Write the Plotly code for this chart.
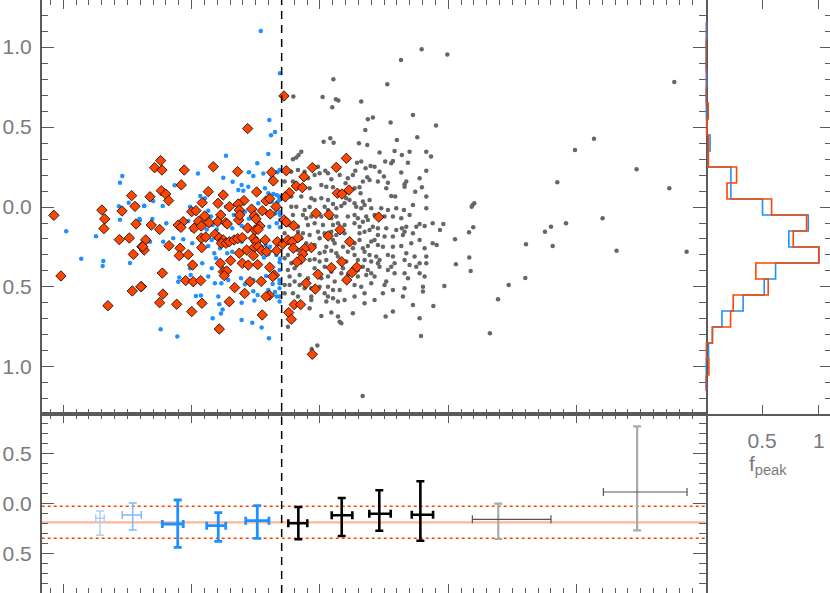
import plotly.graph_objects as go

# ---------------- data ----------------
grey_pts = [
 (2.096,0.623),(2.322,0.659),(2.725,0.575),(2.374,0.548),(2.413,0.559),(2.551,0.529),(2.354,0.481),
 (2.081,0.429),(2.029,0.408),(2.107,0.402),(2.304,0.398),(2.369,0.388),(2.600,0.419),(2.759,0.436),
 (1.855,0.346),(1.834,0.325),(1.790,0.298),(1.816,0.309),(2.465,0.340),(2.582,0.350),(2.639,0.325),
 (2.699,0.346),(2.829,0.346),(2.289,0.277),(2.322,0.284),(2.395,0.256),(2.356,0.242),(2.426,0.252),
 (2.509,0.284),(2.556,0.273),(2.569,0.288),(2.686,0.277),(1.985,0.252),(2.042,0.227),(2.063,0.211),
 (2.276,0.227),(2.218,0.179),(2.257,0.200),(2.369,0.186),(2.465,0.221),(2.499,0.190),(2.634,0.215),
 (2.829,0.227),(2.777,0.179),(2.673,0.159),(2.660,0.142),(2.452,0.159),(2.530,0.152),(2.387,0.169),
 (2.335,0.159),(2.089,0.173),(2.154,0.200),(2.200,0.148),(1.959,0.200),(1.998,0.211),(1.881,0.221),
 (1.907,0.179),(1.777,0.221),(1.829,0.231),(1.790,0.159),(1.725,0.159),(1.920,0.117),(2.011,0.138),
 (2.050,0.127),(2.102,0.123),(2.270,0.117),(2.309,0.123),(2.317,0.086),(2.517,0.117),(2.556,0.069),
 (2.587,0.065),(2.660,0.127),(2.743,0.096),(2.795,0.123),(2.829,0.065),(1.777,0.065),(1.855,0.065),
 (1.933,0.054),(1.959,0.044),(2.011,0.054),(2.063,0.044),(2.205,0.054),(2.231,0.044),(2.192,0.023),
 (2.270,0.023),(2.335,0.034),(2.387,0.044),(2.400,-0.008),(2.478,-0.008),(2.530,-0.019),(2.595,-0.008),
 (2.655,-0.019),(2.725,0.013),(2.829,-0.008),(1.777,0.002),(1.816,0.002),(1.881,-0.019),(1.920,0.000),
 (2.037,0.002),(2.063,-0.019),(2.102,0.019),(2.128,-0.008),(2.167,0.006),(2.283,0.002),(2.322,-0.008),
 (2.348,0.013),(1.790,-0.050),(1.868,-0.050),(1.894,-0.071),(1.933,-0.060),(2.011,-0.060),(2.089,-0.071),
 (2.128,-0.060),(2.218,-0.060),(2.270,-0.050),(2.296,-0.071),(2.361,-0.060),(2.374,-0.081),(2.426,-0.050),
 (2.504,-0.060),(2.569,-0.060),(2.634,-0.071),(2.699,-0.050),(2.777,-0.106),(2.751,-0.123),(2.816,-0.119),
 (1.751,-0.112),(1.829,-0.123),(1.907,-0.112),(1.959,-0.102),(2.024,-0.112),(2.102,-0.112),(2.141,-0.102),
 (2.192,-0.112),(2.270,-0.102),(2.309,-0.123),(2.335,-0.092),(2.413,-0.123),(2.452,-0.133),(2.517,-0.133),
 (2.595,-0.144),(2.660,-0.154),(2.639,-0.133),(2.673,-0.123),(2.725,-0.164),(1.725,-0.164),(1.829,-0.154),
 (1.868,-0.164),(1.920,-0.175),(1.985,-0.154),(2.037,-0.164),(2.089,-0.154),(2.128,-0.175),(2.192,-0.164),
 (2.309,-0.164),(2.348,-0.154),(2.387,-0.144),(2.452,-0.175),(2.504,-0.185),(2.569,-0.185),(2.647,-0.175),
 (2.712,-0.227),(2.569,-0.248),(1.855,-0.196),(1.998,-0.196),(2.102,-0.206),(2.115,-0.227),(2.270,-0.227),
 (2.309,-0.206),(2.400,-0.216),(2.426,-0.206),(2.452,-0.237),(2.491,-0.248),(2.634,-0.244),(2.777,-0.206),
 (2.816,-0.258),(1.894,-0.227),(1.959,-0.237),(2.050,-0.248),(2.180,-0.248),(2.257,-0.258),(2.335,-0.258),
 (2.374,-0.244),(1.777,-0.258),(1.751,-0.300),(1.829,-0.269),(1.998,-0.289),(2.037,-0.279),(2.089,-0.273),
 (2.128,-0.289),(2.218,-0.279),(2.270,-0.300),(2.348,-0.279),(2.387,-0.300),(2.439,-0.310),(2.530,-0.300),
 (2.569,-0.310),(2.673,-0.289),(2.738,-0.310),(2.777,-0.352),(2.829,-0.310),(1.725,-0.321),(1.777,-0.352),
 (1.920,-0.331),(1.959,-0.327),(1.998,-0.341),(2.050,-0.331),(2.141,-0.310),(2.205,-0.341),(2.296,-0.331),
 (2.348,-0.331),(2.400,-0.341),(2.452,-0.352),(2.465,-0.331),(2.582,-0.352),(2.660,-0.331),(2.699,-0.362),
 (2.751,-0.373),(2.829,-0.352),(1.751,-0.394),(1.803,-0.383),(1.959,-0.383),(2.037,-0.373),(2.089,-0.404),
 (2.180,-0.383),(2.296,-0.394),(2.335,-0.373),(2.374,-0.394),(2.400,-0.414),(2.465,-0.373),(2.530,-0.394),
 (2.582,-0.414),(2.556,-0.373),(2.660,-0.414),(2.777,-0.414),(2.816,-0.435),(1.764,-0.435),(1.842,-0.425),
 (1.907,-0.446),(2.011,-0.446),(2.063,-0.435),(2.115,-0.466),(2.167,-0.414),(2.218,-0.425),(2.296,-0.435),
 (2.361,-0.425),(2.426,-0.435),(2.517,-0.466),(2.686,-0.446),(2.803,-0.498),(1.725,-0.487),(1.764,-0.487),
 (1.803,-0.466),(1.842,-0.487),(1.881,-0.508),(1.933,-0.508),(1.998,-0.498),(2.063,-0.498),(2.102,-0.519),
 (2.154,-0.519),(2.270,-0.487),(2.322,-0.498),(2.400,-0.477),(2.504,-0.487),(2.569,-0.519),(2.660,-0.508),
 (2.803,-0.529),(1.725,-0.539),(1.790,-0.539),(1.829,-0.560),(1.933,-0.560),(2.037,-0.539),(2.063,-0.560),
 (2.102,-0.571),(2.192,-0.581),(2.270,-0.560),(2.348,-0.539),(2.491,-0.539),(2.647,-0.560),(1.933,-0.581),
 (2.050,-0.591),(2.141,-0.591),(2.348,-0.602),(2.426,-0.581),(2.725,-0.612),(1.920,-0.633),(2.011,-0.681),
 (2.089,-0.660),(2.141,-0.685),(2.167,-0.727),(2.257,-0.664),(2.569,-0.654),(2.512,-0.685),(2.777,-0.696),
 (1.751,-0.748),(2.154,-0.717),
 (2.793,0.986),(2.993,0.954),(2.632,0.919),(2.105,0.798),(2.525,0.767),(1.793,0.690),(2.021,0.688),
 (2.125,0.673),(2.144,0.665),(2.905,0.509),(2.866,0.315),
 (3.850,0.154),(3.988,0.356),(4.136,0.427),(4.468,0.236),(4.723,0.117),(4.762,0.781),
 (2.879,-0.102),(2.936,-0.144),(2.962,-0.106),(2.879,-0.227),(2.910,-0.237),(3.053,-0.202),(3.060,-0.358),
 (3.162,-0.158),(3.195,-0.127),(3.164,-0.316),(3.175,-0.400),(3.183,0.002),(3.203,0.023),(3.190,0.013),
 (3.471,-0.487),(3.388,-0.577),(3.601,-0.444),(3.606,-0.233),(3.754,-0.154),(3.801,-0.123),(3.814,-0.244),
 (3.918,-0.102),(4.203,-0.071),(4.312,-0.273),(4.858,-0.279),(3.325,-0.789),(2.970,-0.494),(2.884,-0.619),
 (2.788,-0.806),(2.333,-1.181),(1.980,-0.866),(1.936,-0.887),
]

blue_pts = [
 (1.268,0.321),(1.598,0.331),(1.512,0.273),(1.050,0.210),(0.868,0.136),(1.247,0.183),(1.320,0.158),
 (1.447,0.217),(1.481,0.194),(1.559,0.210),(1.619,0.173),(1.668,0.217),(1.390,0.138),(1.364,0.106),
 (1.403,0.102),(1.442,0.127),(1.572,0.117),(1.598,0.086),(1.637,0.081),(1.663,0.075),(1.684,0.060),
 (1.068,0.069),(1.104,0.054),(0.629,0.006),(0.701,0.038),(0.775,0.006),(0.988,0.002),(1.130,-0.023),
 (1.151,-0.060),(1.268,0.002),(1.330,-0.050),(1.416,-0.029),(1.447,-0.073),(1.520,0.023),(1.624,0.033),
 (1.673,0.033),(1.650,-0.040),(1.689,-0.050),(1.690,-0.081),(0.598,-0.081),(0.694,-0.075),(0.803,-0.102),
 (0.974,-0.088),(1.005,-0.144),(1.118,-0.140),(1.164,-0.113),(1.196,-0.140),(1.317,-0.133),(1.390,-0.117),
 (1.606,-0.123),(1.663,-0.102),(1.690,-0.127),(0.857,-0.196),(0.935,-0.202),(1.005,-0.227),(0.779,-0.217),
 (0.676,-0.217),(1.157,-0.206),(1.130,-0.244),(1.390,-0.217),(1.577,-0.238),(1.611,-0.248),(1.221,-0.258),
 (1.177,-0.289),(1.190,-0.321),(1.317,-0.279),(1.278,-0.289),(1.494,-0.310),(1.564,-0.315),(1.598,-0.296),
 (1.660,-0.300),(1.689,-0.323),(0.988,-0.383),(1.083,-0.352),(1.157,-0.383),(0.904,-0.440),(0.896,-0.467),
 (1.130,-0.435),(1.182,-0.477),(1.232,-0.477),(1.286,-0.456),(1.385,-0.446),(1.416,-0.483),(1.481,-0.456),
 (1.580,-0.431),(1.632,-0.481),(1.684,-0.456),(0.993,-0.425),(1.034,-0.556),(1.073,-0.554),(1.208,-0.560),
 (1.216,-0.608),(1.390,-0.598),(1.481,-0.527),(1.489,-0.585),(1.515,-0.550),(1.598,-0.519),(1.242,-0.640),
 (1.229,-0.665),(1.390,-0.706),(1.473,-0.723),(1.650,-0.531),(1.663,-0.560),(0.759,-0.764),(1.164,-0.696),
 (0.460,0.194),(0.442,0.152),(0.434,0.004),(0.510,0.027),(0.632,0.008),(0.442,-0.079),(0.593,-0.075),
 (0.023,-0.152),(0.255,-0.183),(0.140,-0.323),(0.312,-0.338),(0.307,-0.369),(0.520,-0.350),
 (0.889,-0.810),(1.603,-0.820),(1.546,-0.754),(1.539,1.100),(1.689,0.836),(1.606,0.544),(1.619,0.448),
 (1.650,0.469),
 (1.686,0.232),(1.686,0.065),(1.686,0.044),(1.686,-0.029),(1.686,-0.039),(1.686,-0.216),(1.686,-0.346),
 (1.686,-0.394),(1.686,-0.477),(1.686,-0.508),(1.686,-0.560),(1.686,-0.591),
]

orange_pts = [
 (0.759,0.290),(0.712,0.246),(0.769,0.231),(0.943,0.231),(1.169,0.252),(1.359,0.221),(0.920,0.138),
 (1.624,0.217),(1.637,0.163),(0.764,0.102),(0.798,0.081),(0.676,0.064),(0.821,0.040),(1.130,0.096),
 (1.247,0.075),(1.507,0.094),(1.083,0.027),(1.206,0.023),(1.295,0.002),(1.408,0.040),(1.580,0.038),
 (1.609,0.052),(1.658,0.002),(1.364,0.019),(1.372,-0.019),(1.468,-0.013),(1.551,-0.023),(1.613,-0.044),
 (1.001,-0.029),(1.034,-0.023),(1.102,-0.056),(1.227,-0.050),(0.935,-0.092),(0.896,-0.113),(0.917,-0.127),
 (1.055,-0.089),(1.136,-0.098),(1.203,-0.092),(1.266,-0.098),(1.278,-0.106),(1.367,-0.081),(1.375,-0.050),
 (1.489,-0.056),(1.502,-0.075),(0.686,-0.113),(0.751,-0.140),(1.019,-0.133),(1.076,-0.119),(1.437,-0.131),
 (1.494,-0.144),(1.533,-0.119),(1.518,-0.140),(0.642,-0.206),(0.613,-0.248),(0.631,-0.269),(0.824,-0.242),
 (0.910,-0.258),(0.904,-0.304),(0.974,-0.298),(1.076,-0.194),(1.110,-0.188),(1.079,-0.254),(1.183,-0.171),
 (1.216,-0.194),(1.247,-0.206),(1.232,-0.227),(1.268,-0.227),(1.294,-0.217),(1.331,-0.206),(1.359,-0.198),
 (1.395,-0.192),(1.481,-0.196),(1.502,-0.217),(1.574,-0.206),(1.668,-0.217),(1.710,-0.231),(1.429,-0.269),
 (1.489,-0.252),(1.520,-0.248),(1.372,-0.289),(1.481,-0.304),(1.546,-0.273),(1.585,-0.279),(1.663,-0.273),
 (1.224,-0.352),(1.304,-0.335),(1.008,-0.363),(1.395,-0.352),(1.442,-0.363),(1.515,-0.360),(1.609,-0.377),
 (1.645,-0.425),(1.632,-0.435),(1.247,-0.404),(1.273,-0.400),(1.255,-0.429),(0.772,-0.413),(0.608,-0.498),
 (0.954,-0.460),(1.013,-0.467),(1.071,-0.460),(1.336,-0.504),(1.414,-0.540),(1.455,-0.467),(1.543,-0.465),
 (1.606,-0.552),(1.580,-0.560),(0.777,-0.544),(0.751,-0.598),(0.884,-0.608),(1.081,-0.602),(1.294,-0.592),
 (1.001,-0.654),(1.551,-0.675),(1.216,-0.763),
 (-0.073,-0.052),(-0.018,-0.431),(0.301,-0.019),(0.323,-0.075),(0.317,-0.135),(0.437,-0.204),(0.533,0.071),
 (0.458,-0.025),(0.559,0.004),(0.567,-0.106),(0.515,-0.194),(0.546,-0.296),(0.619,-0.248),(0.538,-0.525),
 (0.606,-0.498),(0.348,-0.617),
 (1.437,0.490),(1.720,0.694),
 (1.738,0.227),(1.941,0.246),(2.128,0.248),(2.206,0.304),(1.876,0.189),(1.816,0.131),(1.863,0.121),
 (1.762,0.089),(1.730,0.063),(2.136,0.086),(2.172,0.081),(2.227,0.106),(1.970,-0.040),(2.071,-0.048),
 (2.458,-0.063),(1.720,-0.081),(1.738,-0.094),(1.796,-0.117),(2.157,-0.142),(2.065,-0.181),(1.751,-0.206),
 (1.785,-0.217),(1.829,-0.192),(1.793,-0.258),(1.933,-0.254),(1.881,-0.260),(2.232,-0.217),(1.866,-0.294),
 (1.853,-0.327),(1.821,-0.344),(2.170,-0.342),(2.287,-0.377),(2.089,-0.379),(2.250,-0.410),(1.985,-0.421),
 (2.209,-0.456),(1.892,-0.477),(1.964,-0.513),(1.800,-0.610),(1.850,-0.610),(1.757,-0.660),(1.777,-0.702),
 (1.941,-0.921),
]

# histogram of the y values (normalised peak fraction)
hist_centers = [1.1, 1.0, 0.9, 0.8, 0.7, 0.6, 0.5, 0.4, 0.3, 0.2, 0.1, 0.0,
                -0.1, -0.2, -0.3, -0.4, -0.5, -0.6, -0.7, -0.8, -0.9, -1.0, -1.1]
hist_blue = [0.01, 0.0, 0.0, 0.01, 0.0, 0.005, 0.01, 0.04, 0.025, 0.224, 0.224, 0.503,
             0.906, 0.735, 1.0, 0.618, 0.518, 0.332, 0.145, 0.062, 0.027, 0.0, 0.0]
hist_orange = [0.0, 0.0, 0.0, 0.0, 0.0, 0.024, 0.01, 0.025, 0.025, 0.274, 0.19, 0.583,
               0.891, 0.774, 1.0, 0.444, 0.553, 0.244, 0.221, 0.06, 0.005, 0.03, 0.0]
bin_width = 0.1

# binned means in the lower panel
bin_x = [0.286, 0.541, 0.892, 1.208, 1.512, 1.832, 2.170, 2.463, 2.783, 3.390, 4.472]
bin_x_lo = [0.253, 0.460, 0.772, 1.118, 1.422, 1.754, 2.092, 2.385, 2.716, 3.188, 4.209]
bin_x_hi = [0.320, 0.608, 0.935, 1.266, 1.603, 1.902, 2.253, 2.552, 2.882, 3.801, 4.861]
bin_y = [-0.150, -0.117, -0.207, -0.224, -0.174, -0.200, -0.120, -0.104, -0.114, -0.160, 0.113]
bin_y_lo = [-0.320, -0.267, -0.440, -0.380, -0.350, -0.360, -0.327, -0.274, -0.374, -0.357, -0.270]
bin_y_hi = [-0.077, 0.003, 0.033, -0.094, -0.024, -0.037, 0.053, 0.130, 0.220, -0.004, 0.770]

median_level = -0.19
band_lo, band_hi = -0.35, -0.03
split_x = 1.702

# ---------------- figure ----------------
fig = go.Figure()

def xs(p):
    return [a for a, b in p]

def ys(p):
    return [b for a, b in p]

fig.add_trace(go.Scatter(x=xs(grey_pts), y=ys(grey_pts), mode='markers',
                         marker=dict(color='#666666', size=4.5, line=dict(width=0)),
                         xaxis='x', yaxis='y', hoverinfo='skip'))
fig.add_trace(go.Scatter(x=xs(blue_pts), y=ys(blue_pts), mode='markers',
                         marker=dict(color='#1E90FF', size=4.5, line=dict(width=0)),
                         xaxis='x', yaxis='y', hoverinfo='skip'))
fig.add_trace(go.Scatter(x=xs(orange_pts), y=ys(orange_pts), mode='markers',
                         marker=dict(color='#FF4500', size=8, symbol='diamond',
                                     line=dict(color='#000000', width=0.8)),
                         xaxis='x', yaxis='y', hoverinfo='skip'))

# histograms as step outlines
def steps(vals):
    hx, hy = [0.0], [hist_centers[0] + bin_width / 2]
    for c, v in zip(hist_centers, vals):
        hx += [v, v]
        hy += [c + bin_width / 2, c - bin_width / 2]
    hx.append(0.0)
    hy.append(hist_centers[-1] - bin_width / 2)
    return hx, hy

for vals, col in ((hist_blue, '#1E90FF'), (hist_orange, '#FF4500')):
    hx, hy = steps(vals)
    fig.add_trace(go.Scatter(x=hx, y=hy, mode='lines', line=dict(color=col, width=1.6),
                             xaxis='x3', yaxis='y3', hoverinfo='skip'))

# error-bar points in the lower panel
groups = [
    ([0], '#a9d2f8', '#a9d2f8', 1.5, 1.5),
    ([1], '#7dbaf6', '#7dbaf6', 1.5, 1.5),
    ([2, 3, 4], '#1E90FF', '#1E90FF', 2.8, 2.8),
    ([5, 6, 7, 8], '#000000', '#000000', 2.6, 2.6),
    ([9, 10], '#aaaaaa', '#555555', 2.2, 1.2),
]
for idx, cy, cx, ty, tx in groups:
    fig.add_trace(go.Scatter(
        x=[bin_x[i] for i in idx], y=[bin_y[i] for i in idx], mode='markers',
        marker=dict(size=1, color=cy, opacity=0),
        error_y=dict(type='data', symmetric=False,
                     array=[bin_y_hi[i] - bin_y[i] for i in idx],
                     arrayminus=[bin_y[i] - bin_y_lo[i] for i in idx],
                     color=cy, thickness=ty, width=4),
        error_x=dict(type='data', symmetric=False,
                     array=[bin_x_hi[i] - bin_x[i] for i in idx],
                     arrayminus=[bin_x[i] - bin_x_lo[i] for i in idx],
                     color=cx, thickness=tx, width=4),
        xaxis='x2', yaxis='y2', hoverinfo='skip'))

W, H = 830, 593
x0, x1 = 41.7 / W, 705.5 / W
ysplit = (H - 414) / H
tick_font = dict(family='Liberation Sans', size=21, color='#7a7a7a')
axcol = '#5a5a5a'

common_x = dict(range=[-0.168, 5.005], domain=[x0, x1], showgrid=False, zeroline=False,
                automargin=False,
                showline=True, linecolor=axcol, linewidth=1.5, mirror='ticks',
                ticks='inside', tickmode='linear', tick0=0, dtick=1, ticklen=9,
                tickcolor=axcol, tickwidth=1.2, showticklabels=False,
                minor=dict(ticks='inside', tickmode='linear', tick0=0, dtick=0.1,
                           ticklen=5, tickcolor=axcol, tickwidth=1))

ymin_tick = [round(i / 10, 1) for i in range(-12, 13)]
ymin_tick2 = [round(i / 10, 1) for i in range(-8, 9)]

fig.update_layout(
    width=W, height=H, margin=dict(l=0, r=0, t=0, b=0, pad=0, autoexpand=False),
    paper_bgcolor='white', plot_bgcolor='white', showlegend=False,
    xaxis=dict(common_x, anchor='y'),
    xaxis2=dict(common_x, anchor='y2', matches='x'),
    yaxis=dict(domain=[ysplit, 1.0], range=[-1.294, 1.294], anchor='x', automargin=False,
               showgrid=False, zeroline=False, showline=True, linecolor=axcol,
               linewidth=1.5, mirror='ticks', ticks='inside', ticklen=13,
               tickcolor=axcol, tickwidth=1.2,
               tickmode='array', tickvals=[-1.0, -0.5, 0.0, 0.5, 1.0],
               ticktext=['1.0', '0.5', '0.0', '0.5', '1.0'], tickfont=tick_font,
               ticklabelstandoff=4,
               minor=dict(ticks='inside', tickmode='array', tickvals=ymin_tick,
                          ticklen=7, tickcolor=axcol, tickwidth=1)),
    yaxis2=dict(domain=[0, ysplit], range=[-0.897, 0.893], anchor='x2', automargin=False,
                showgrid=False, zeroline=False, showline=True, linecolor=axcol,
                linewidth=1.5, mirror='ticks', ticks='inside', ticklen=13,
                tickcolor=axcol, tickwidth=1.2,
                tickmode='array', tickvals=[-0.5, 0.0, 0.5],
                ticktext=['0.5', '0.0', '0.5'], tickfont=tick_font,
                ticklabelstandoff=4,
                minor=dict(ticks='inside', tickmode='array', tickvals=ymin_tick2,
                           ticklen=7, tickcolor=axcol, tickwidth=1)),
    xaxis3=dict(domain=[x1, 1.0], range=[0, 1.098], anchor='y3', automargin=False,
                showgrid=False, zeroline=False, showline=True, linecolor=axcol,
                linewidth=1.5, mirror='ticks', ticks='inside', ticklen=9,
                tickcolor=axcol, tickmode='array', tickvals=[0.5, 1.0],
                ticktext=['0.5', '1'], tickfont=tick_font, ticklabelstandoff=7,
                title=dict(text='f<sub>peak</sub>', font=tick_font, standoff=0)),
    yaxis3=dict(domain=[ysplit, 1.0], matches='y', anchor='x3', side='right', automargin=False,
                showgrid=False, zeroline=False, showline=True, linecolor=axcol,
                linewidth=1.5, ticks='inside', ticklen=10, tickcolor=axcol,
                tickmode='array', tickvals=[-1.0, -0.5, 0.0, 0.5, 1.0],
                showticklabels=False,
                minor=dict(ticks='inside', tickmode='array', tickvals=ymin_tick,
                           ticklen=5, tickcolor=axcol, tickwidth=1)),
    shapes=[
        dict(type='line', xref='x', yref='paper', x0=split_x, x1=split_x, y0=0, y1=1,
             line=dict(color='black', width=1.5, dash='8px,6px')),
        dict(type='line', xref='x2 domain', yref='y2', x0=0, x1=1,
             y0=median_level, y1=median_level, line=dict(color='#FFB59C', width=2.2),
             layer='below'),
        dict(type='line', xref='x2 domain', yref='y2', x0=0, x1=1,
             y0=band_hi, y1=band_hi, line=dict(color='#FF4500', width=1.5, dash='dot'),
             layer='below'),
        dict(type='line', xref='x2 domain', yref='y2', x0=0, x1=1,
             y0=band_lo, y1=band_lo, line=dict(color='#FF4500', width=1.5, dash='dot'),
             layer='below'),
    ],
)

fig.write_html('out.html', config={'displayModeBar': False},
               post_script="document.body.style.margin='0';document.body.style.overflow='hidden';")
